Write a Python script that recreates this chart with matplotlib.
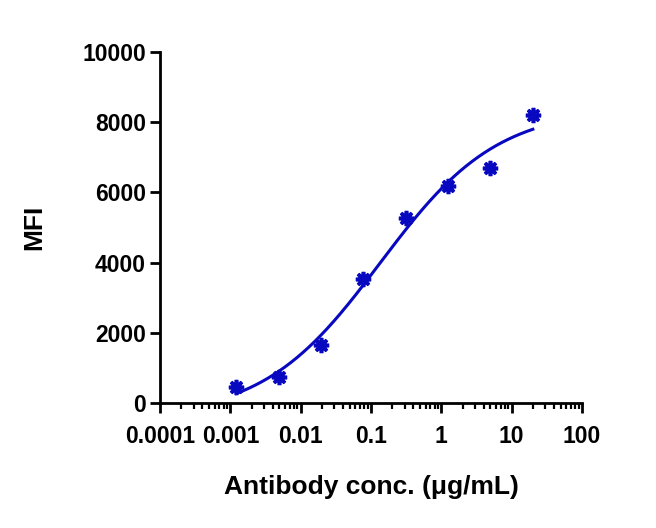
import numpy as np
import matplotlib
matplotlib.use("Agg")
import matplotlib.pyplot as plt
from matplotlib.ticker import LogLocator, NullFormatter, FixedLocator

# ---- data ----
conc = [0.00122, 0.00488, 0.0195, 0.078, 0.3125, 1.25, 5.0, 20.0]   # ug/mL
mfi = [470, 750, 1660, 3530, 5260, 6180, 6700, 8200]

x_ticks = [0.0001, 0.001, 0.01, 0.1, 1, 10, 100]
x_tick_labels = ["0.0001", "0.001", "0.01", "0.1", "1", "10", "100"]
y_ticks = [0, 2000, 4000, 6000, 8000, 10000]
y_tick_labels = ["0", "2000", "4000", "6000", "8000", "10000"]

# ---- 4PL fit of the data (Levenberg-Marquardt in numpy) ----
xd = np.log10(np.array(conc))
yd = np.array(mfi, dtype=float)

def model(p, lx):
    b, t, le, h = p
    return b + (t - b) / (1.0 + 10.0 ** ((le - lx) * h))

p = np.array([0.0, 8500.0, -1.0, 0.7])
lam = 1e-3
for _ in range(500):
    r = yd - model(p, xd)
    J = np.zeros((len(xd), 4))
    for k in range(4):
        dp = np.zeros(4)
        dp[k] = 1e-6 * max(1.0, abs(p[k]))
        J[:, k] = (model(p + dp, xd) - model(p - dp, xd)) / (2 * dp[k])
    A = J.T @ J
    g = J.T @ r
    step = np.linalg.solve(A + lam * np.diag(np.diag(A)), g)
    pn = p + step
    if np.sum((yd - model(pn, xd)) ** 2) < np.sum(r ** 2):
        p = pn
        lam *= 0.5
    else:
        lam *= 4
fit_lx = np.linspace(xd.min(), xd.max(), 300)
fit_y = model(p, fit_lx)

# ---- plot ----
plt.rcParams["font.family"] = ["Liberation Sans", "DejaVu Sans"]
plt.rcParams["font.weight"] = "bold"

fig = plt.figure(figsize=(6.56, 5.28), dpi=100)
ax = fig.add_axes([160 / 656, 1 - 403 / 528, (582 - 160) / 656, (403 - 52) / 528])

color = "#0808c0"
ax.plot(10 ** fit_lx, fit_y, color=color, lw=2.2, zorder=2)
ax.plot(conc, mfi, linestyle="none", marker=(8, 2, 0), markersize=11,
        markeredgewidth=2.6, color=color, zorder=3)

ax.set_xscale("log")
ax.set_xlim(0.0001, 100)
ax.set_ylim(0, 10000)

ax.xaxis.set_major_locator(FixedLocator(x_ticks))
ax.set_xticklabels(x_tick_labels)
ax.xaxis.set_minor_locator(LogLocator(base=10, subs=np.arange(2, 10), numticks=20))
ax.xaxis.set_minor_formatter(NullFormatter())
ax.set_yticks(y_ticks)
ax.set_yticklabels(y_tick_labels)

for s in ["top", "right"]:
    ax.spines[s].set_visible(False)
for s in ["left", "bottom"]:
    ax.spines[s].set_linewidth(2)
    ax.spines[s].set_color("black")

ax.tick_params(axis="both", which="major", direction="out", length=7, width=2,
               labelsize=16.5, colors="black")
ax.tick_params(axis="y", which="major", pad=3)
ax.tick_params(axis="x", which="major", pad=9)
ax.tick_params(axis="x", which="minor", direction="out", length=4, width=1.6)
for lab in ax.get_xticklabels() + ax.get_yticklabels():
    lab.set_fontweight("bold")

ax.set_xlabel("Antibody conc. (μg/mL)", fontsize=19, fontweight="bold", labelpad=19)
ax.set_ylabel("MFI", fontsize=19, fontweight="bold", labelpad=26)

fig.savefig("out.png", dpi=100)
